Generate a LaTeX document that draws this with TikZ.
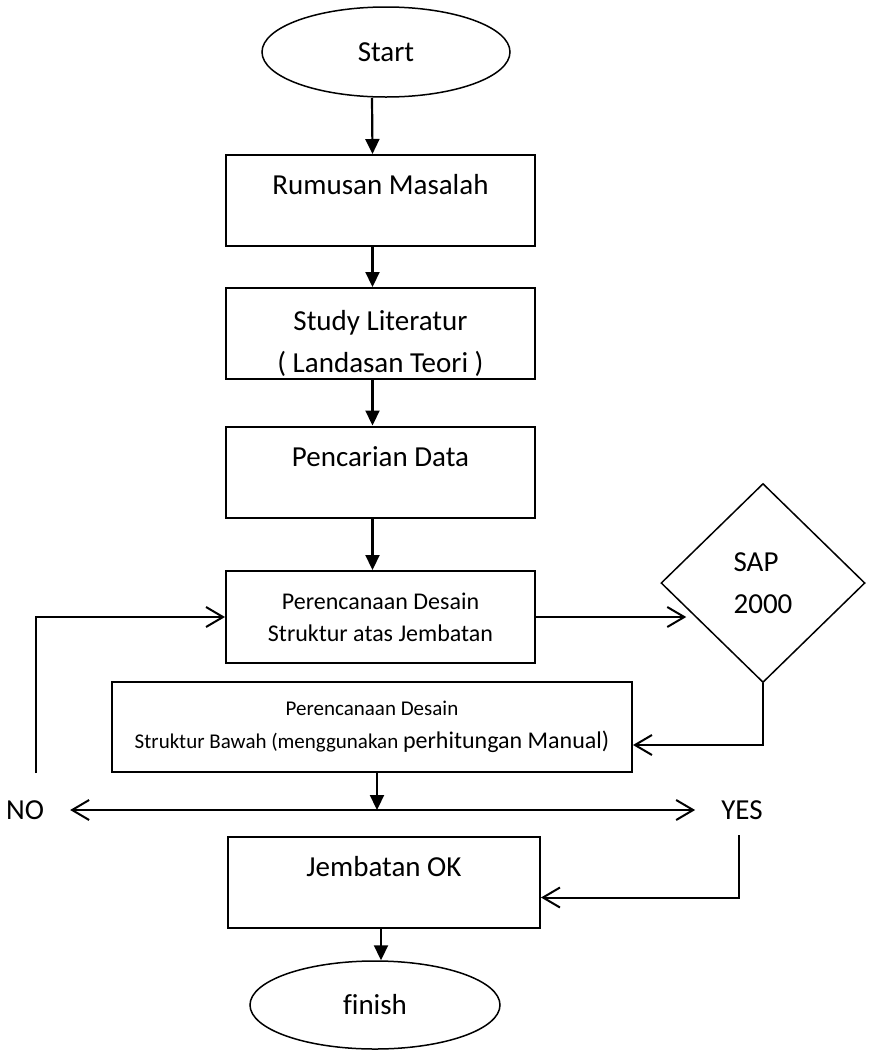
\documentclass[tikz,border=0pt]{standalone}
\usepackage{fontspec}
\setmainfont{Carlito}[Ligatures=NoCommon]
\usetikzlibrary{shapes.geometric,arrows.meta,calc}
\begin{document}
\begin{tikzpicture}[x=1pt,y=-1pt,
  box/.style={draw, line width=2pt, inner sep=0pt, minimum width=309pt, minimum height=91pt, align=center},
  term/.style={draw, ellipse, line width=1.5pt, inner sep=0pt},
  main/.style={line width=2.2pt, -{Triangle[length=15pt,width=14pt]}},
  open/.style={line width=2pt, -{Straight Barb[length=17pt,width=20pt]}},
  openboth/.style={line width=2pt, {Straight Barb[length=17pt,width=20pt]}-{Straight Barb[length=17pt,width=20pt]}},
  big/.style={font=\fontsize{29pt}{42pt}\selectfont}]
\useasboundingbox (0,0) rectangle (868,1050);

\node[term, big, minimum width=248pt, minimum height=90pt] (start) at (386,52) {Start};
\node[box, big, text height=20pt, text depth=32pt] (r) at (380.5,200.5) {Rumusan Masalah};
\node[box, big] (s) at (380.5,333.5) {\rule{0pt}{40pt}Study Literatur\\( Landasan Teori )};
\node[box, big, text height=20pt, text depth=31pt] (p) at (380.5,472) {Pencarian Data};
\node[box, font=\fontsize{24pt}{32pt}\selectfont, minimum height=92pt] (b1) at (380.5,617) {Perencanaan Desain\\Struktur atas Jembatan};
\node[draw, diamond, line width=1.5pt, inner sep=0pt, minimum width=204pt, minimum height=199pt, big, align=left] (d) at (763,583) {SAP\\2000};
\node[box, font=\fontsize{21pt}{33pt}\selectfont, minimum width=520pt, minimum height=90pt] (b2) at (372,727) {Perencanaan Desain\\Struktur Bawah (menggunakan {\fontsize{24pt}{33pt}\selectfont perhitungan Manual)}};
\node[big, inner sep=0pt] (no) at (25,810) {NO};
\node[big, inner sep=0pt] (yes) at (742,810) {YES};
\node[box, big, minimum width=312pt, text height=20pt, text depth=32pt] (ok) at (384,882.5) {Jembatan OK};
\node[term, big, minimum width=250pt, minimum height=88pt] (fin) at (375,1005) {finish};

\draw[main] ([xshift=-14pt]start.south) -- ([xshift=-8pt]r.north);
\draw[main] ([xshift=-8pt]r.south) -- ([xshift=-8pt]s.north);
\draw[main] ([xshift=-8pt]s.south) -- ([xshift=-8pt]p.north);
\draw[main] ([xshift=-8pt]p.south) -- ([xshift=-8pt]b1.north);
\draw[open] (b1.east) -- ($(b1.east -| d.west)+(26,0)$);
\draw[open] (d.south) |- ([yshift=-18pt]b2.east);
\draw[main] ([xshift=5pt]b2.south) -- ([xshift=5pt]b2.south |- no.east);
\draw[openboth] ([xshift=26pt]no.east) -- ([xshift=-26pt]yes.west);
\coordinate (loopstart) at (36,773);
\draw[open] (loopstart) |- (b1.west);
\draw[open] ([xshift=-3pt,yshift=-25pt]yes.center) |- ([yshift=-15pt]ok.east);
\draw[main] ([xshift=-3pt]ok.south) -- ([xshift=-3pt]ok.south |- fin.north);
\end{tikzpicture}
\end{document}
